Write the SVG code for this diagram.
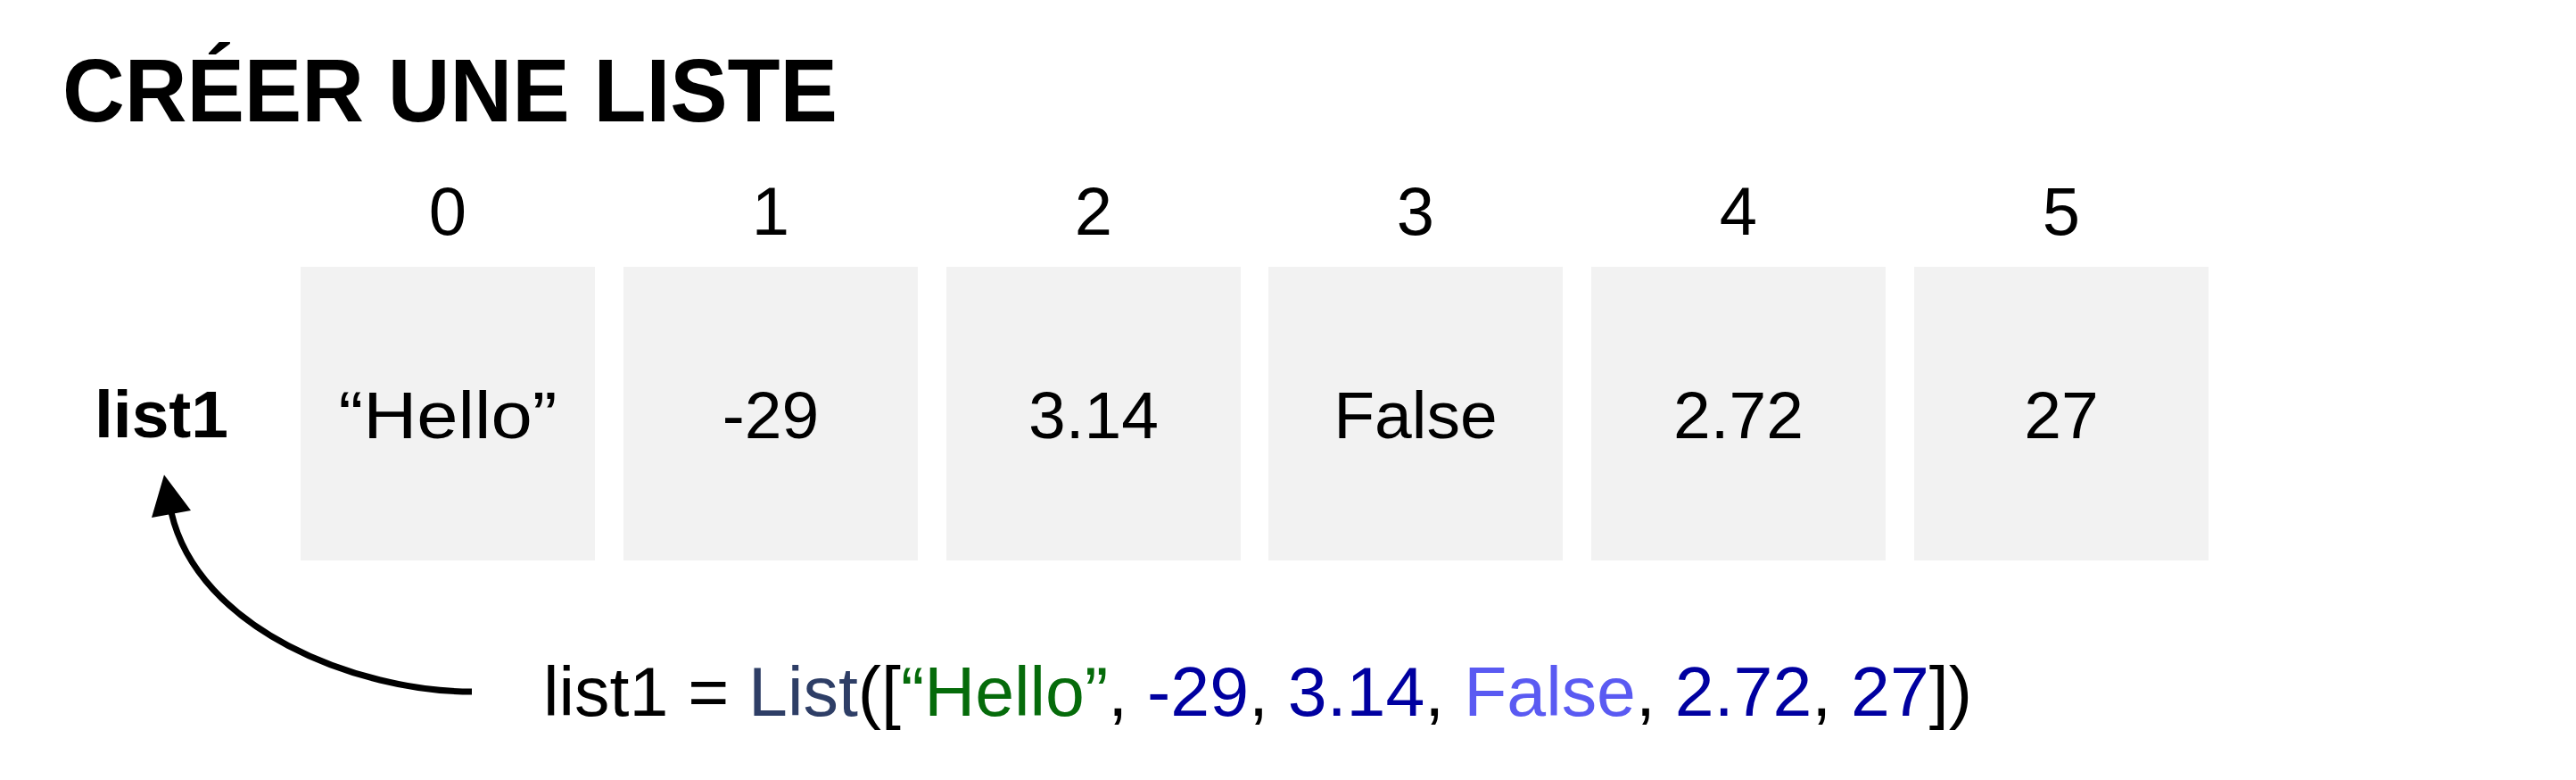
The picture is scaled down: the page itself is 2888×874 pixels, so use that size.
<svg xmlns="http://www.w3.org/2000/svg" width="2888" height="874" viewBox="0 0 2888 874">
<style>
  text { font-family: "Liberation Sans", Arial, sans-serif; fill: #000; }
  .title { font-size: 100px; font-weight: bold; }
  .idx { font-size: 76px; text-anchor: middle; }
  .val { font-size: 75px; text-anchor: middle; }
  .name { font-size: 75px; font-weight: bold; text-anchor: middle; }
  .cell { fill: #F2F2F2; }
  .code { font-size: 78px; }
  .cls { fill: #2E3E66; }
  .str { fill: #056B0A; }
  .num { fill: #0000A0; }
  .kw { fill: #5A5AF2; }
  .conn { fill: none; stroke: #000; stroke-width: 7; }
</style>
<rect width="2888" height="874" fill="#FFFFFF"/>
<text class="title" x="70" y="136" textLength="869" lengthAdjust="spacingAndGlyphs">CRÉER UNE LISTE</text>

<g id="indices">
  <text class="idx" x="502" y="263">0</text>
  <text class="idx" x="864" y="263">1</text>
  <text class="idx" x="1226" y="263">2</text>
  <text class="idx" x="1587" y="263">3</text>
  <text class="idx" x="1949" y="263">4</text>
  <text class="idx" x="2311" y="263">5</text>
</g>

<g id="label-list1">
  <text class="name" x="181" y="490">list1</text>
</g>

<g id="cell0"><rect class="cell" x="337" y="299" width="330" height="329"/><text class="val" x="502" y="491" textLength="245" lengthAdjust="spacingAndGlyphs">“Hello”</text></g>
<g id="cell1"><rect class="cell" x="699" y="299" width="330" height="329"/><text class="val" x="864" y="491">-29</text></g>
<g id="cell2"><rect class="cell" x="1061" y="299" width="330" height="329"/><text class="val" x="1226" y="491">3.14</text></g>
<g id="cell3"><rect class="cell" x="1422" y="299" width="330" height="329"/><text class="val" x="1587" y="491">False</text></g>
<g id="cell4"><rect class="cell" x="1784" y="299" width="330" height="329"/><text class="val" x="1949" y="491">2.72</text></g>
<g id="cell5"><rect class="cell" x="2146" y="299" width="330" height="329"/><text class="val" x="2311" y="491">27</text></g>

<g id="code">
  <text class="code" x="609" y="802" textLength="1602" lengthAdjust="spacingAndGlyphs">list1 = <tspan class="cls">List</tspan>([<tspan class="str">“Hello”</tspan>, <tspan class="num">-29</tspan>, <tspan class="num">3.14</tspan>, <tspan class="kw">False</tspan>, <tspan class="num">2.72</tspan>, <tspan class="num">27</tspan>])</text>
</g>

<g id="connectors">
  <path class="conn" d="M 529 775 C 400 775, 222 705, 192 574"/>
  <polygon points="184,532 170,580 214,572" fill="#000"/>
</g>
</svg>
